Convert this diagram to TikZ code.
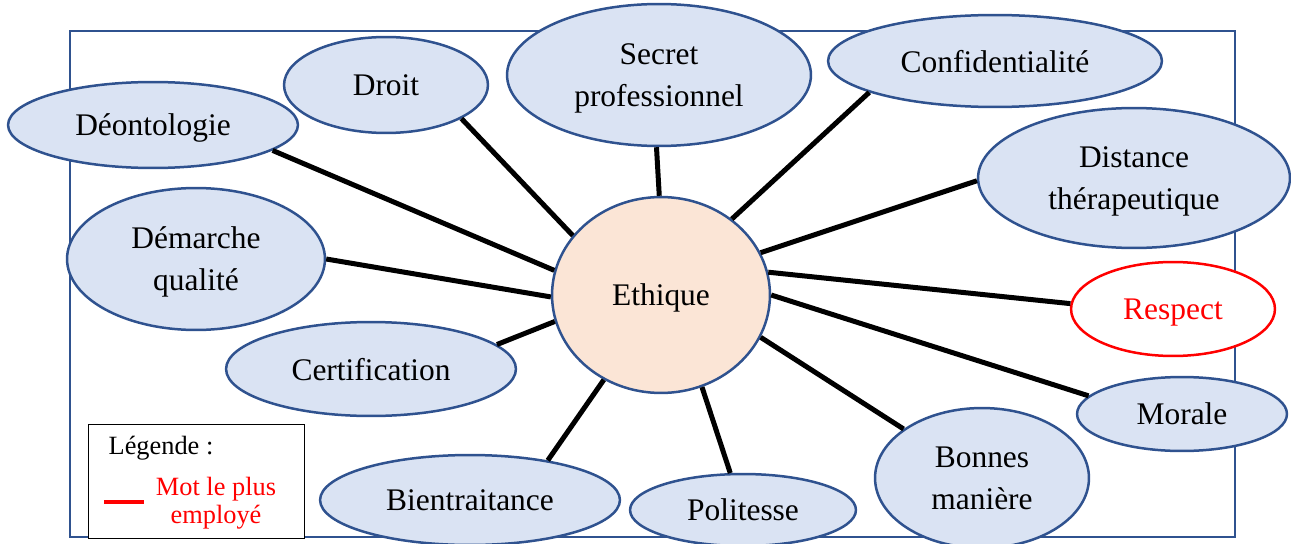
\documentclass[tikz,border=0pt]{standalone}
\usepackage{fontspec}
\setmainfont{Liberation Serif}
\usetikzlibrary{shapes.geometric}
\definecolor{bordure}{HTML}{2F528F}
\definecolor{bulle}{HTML}{DAE3F3}
\definecolor{centre}{HTML}{FBE5D6}
\tikzset{
	mot/.style 2 args={ellipse, draw=bordure, fill=bulle, line width=0.05cm,
		inner sep=0pt, align=center, text depth=0pt,
		minimum width=#1*0.04cm, minimum height=#2*0.04cm,
		font=\fontsize{17.9}{23.9}\selectfont},
	lien/.style={line width=0.1cm, black},
	petit/.style={font=\fontsize{15}{15.9}\selectfont, anchor=base, align=center},
}
\begin{document}
\begin{tikzpicture}[x=0.02cm, y=-0.02cm]
		\useasboundingbox (0,0) rectangle (1291,544);
		\clip (0,0) rectangle (1291,544);
		\draw[bordure, line width=0.04cm] (70,31) rectangle (1235,537);

		\node[mot={109}{98}, fill=centre] (eth) at (661,295) {Ethique};
		\node[mot={145}{43}] (deon) at (153,125) {Déontologie};
		\node[mot={102}{48}] (droit) at (386,85) {Droit};
		\node[mot={152}{71}] (secret) at (659,75) {Secret\\professionnel};
		\node[mot={167}{46}] (confid) at (995,61) {Confidentialité};
		\node[mot={156}{70}] (dist) at (1134,178) {Distance\\thérapeutique};
		\node[mot={129}{71}] (dema) at (196,259) {Démarche\\qualité};
		\node[mot={102}{47}, draw=red, fill=white, text=red] (resp) at (1173,309) {Respect};
		\node[mot={145}{47}] (certif) at (371,369) {Certification};
		\node[mot={105}{37}] (morale) at (1182,414) {Morale};
		\node[mot={107}{70}] (bonnes) at (982,478) {Bonnes\\manière};
		\node[mot={150}{45}] (bien) at (470,500) {Bientraitance};
		\node[mot={113}{36}] (poli) at (743,510) {Politesse};

		\foreach \n/\a/\b in {deon/167/348, droit/146/336, secret/91/268, confid/47/194,
			dist/23/181, dema/181/0, resp/12/177, certif/194/11, morale/0/169,
			bonnes/337/148, bien/236/27, poli/294/109}{
		\draw[lien] (eth.\a) -- (\n.\b);
		};

		% legende
		\node[draw, fill=white, line width=0.02cm, inner sep=0pt,
			minimum width=216*0.02cm, minimum height=114*0.02cm] (legende) at (196,481) {};
		\node[petit] (titre) at (161,454) {Légende :};
		\node[petit, red] (motplus) at (216,523) {Mot le plus\\employé};
		\draw[red, line width=0.08cm] (104,502) -- (144,502);
	\end{tikzpicture}
\end{document}
